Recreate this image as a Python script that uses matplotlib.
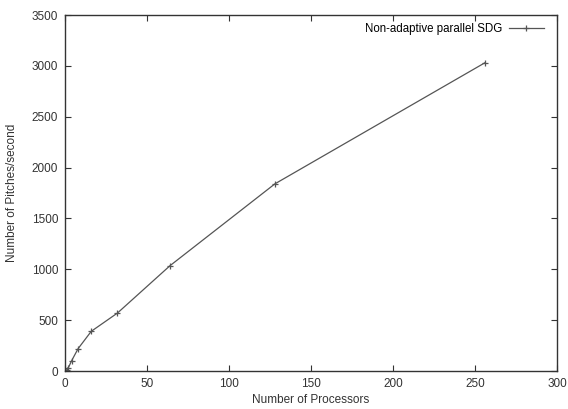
import numpy as np
import matplotlib.pyplot as plt

plt.rcParams['font.family'] = ['Liberation Sans', 'DejaVu Sans']

processors = [1, 2, 4, 8, 16, 32, 64, 128, 256]
pitches = [10, 30, 100, 220, 390, 570, 1035, 1840, 3030]

fig = plt.figure(figsize=(5.68, 4.09), dpi=100)
ax = fig.add_axes([65/568, 1 - 371/409, (557 - 65)/568, (371 - 15)/409])

ax.plot(processors, pitches, color='#555555', lw=0.9, marker='+', ms=5,
        mew=0.9, label='Non-adaptive parallel SDG')

ax.set_xlim(0, 300)
ax.set_ylim(0, 3500)
ax.set_xticks(np.arange(0, 301, 50))
ax.set_yticks(np.arange(0, 3501, 500))
ax.tick_params(direction='in', top=True, right=True, length=4, width=0.8,
               labelsize=8.5, colors='#333333', pad=5)
for s in ax.spines.values():
    s.set_linewidth(1.0)
    s.set_color('#333333')

ax.set_xlabel('Number of Processors', fontsize=8.5, color='#333333', labelpad=3)
ax.set_ylabel('Number of Pitches/second', fontsize=8.5, color='#333333', labelpad=10)

leg = ax.legend(loc='upper right', bbox_to_anchor=(0.982, 0.99), frameon=False,
                fontsize=8.3, markerfirst=False, handlelength=3, handletextpad=0.6,
                borderaxespad=0)

fig.savefig('out.png', dpi=100)
